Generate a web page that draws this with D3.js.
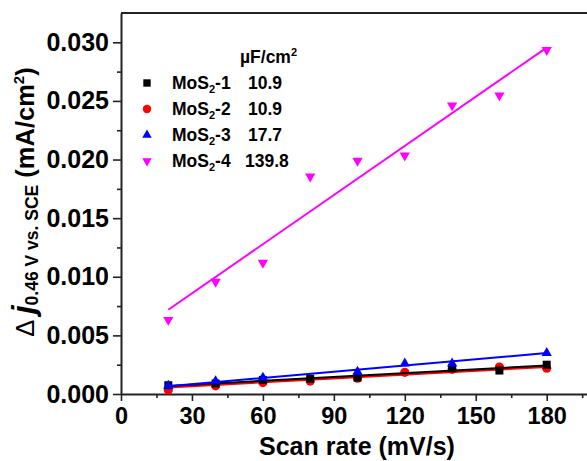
<!DOCTYPE html>
<html>
<head>
<meta charset="utf-8">
<script src="https://cdn.jsdelivr.net/npm/d3@7"></script>
<style>
  html, body { margin: 0; padding: 0; background: #fff; }
  svg { display: block; font-family: "Liberation Sans", Arial, sans-serif; }
</style>
</head>
<body>
<svg id="chart" width="587" height="461"></svg>
<script>
// Scan rates (mV/s)
const scanRates = [20, 40, 60, 80, 100, 120, 140, 160, 180];

// Current density difference at 0.46 V vs. SCE (mA/cm^2); null = point not plotted
const mos2_1 = [0.00075, 0.0009, 0.0012, 0.0013, 0.0014, null, 0.0022, 0.0020, 0.0025];
const mos2_2 = [0.00035, 0.0007, 0.00097, 0.0011, 0.00134, 0.00185, 0.0021, 0.0023, 0.0022];
const mos2_3 = [0.0007, 0.0011, 0.0014, null, 0.0019, 0.0026, 0.0026, null, 0.0035];
const mos2_4 = [0.00632, 0.00957, 0.0112, 0.01855, 0.0199, 0.02034, 0.02462, 0.02547, 0.02934];

// Double-layer capacitance (µF/cm^2) = slope of each fitted line
const seriesNames = ["MoS2-1", "MoS2-2", "MoS2-3", "MoS2-4"];
const capacitance = [10.9, 10.9, 17.7, 139.8];

const xTicks = [0, 30, 60, 90, 120, 150, 180];
const yTicks = [0.000, 0.005, 0.010, 0.015, 0.020, 0.025, 0.030];

(function draw() {
  const seriesValues = [mos2_1, mos2_2, mos2_3, mos2_4];
  const colors = ["#000000", "#ff0000", "#0000ff", "#ff00ff"];
  const symbols = [
    { type: d3.symbolSquare, size: 64, rot: 0 },
    { type: d3.symbolCircle, size: 66, rot: 0 },
    { type: d3.symbolTriangle, size: 46, rot: 0 },
    { type: d3.symbolTriangle, size: 46, rot: 180 }
  ];

  const svg = d3.select("#chart");
  const pLeft = 121, pTop = 13, pBottom = 394, pRight = 594;

  const x = d3.scaleLinear().domain([0, 200]).range([pLeft, pRight]);
  const y = d3.scaleLinear().domain([0, 0.0325]).range([pBottom, pTop]);

  const axisColor = "#222";

  // minor ticks
  svg.append("g")
    .attr("transform", `translate(0,${pBottom})`)
    .call(d3.axisBottom(x).tickValues(d3.range(15, 200, 30)).tickSize(4).tickFormat(""))
    .call(g => g.select(".domain").remove())
    .call(g => g.selectAll("line").attr("stroke", axisColor).attr("stroke-width", 1.6));
  svg.append("g")
    .attr("transform", `translate(${pLeft},0)`)
    .call(d3.axisLeft(y).tickValues(d3.range(0.0025, 0.032, 0.005)).tickSize(4).tickFormat(""))
    .call(g => g.select(".domain").remove())
    .call(g => g.selectAll("line").attr("stroke", axisColor).attr("stroke-width", 1.6));

  // major axes
  const xAxis = svg.append("g")
    .attr("transform", `translate(0,${pBottom})`)
    .call(d3.axisBottom(x).tickValues(xTicks).tickSize(7).tickSizeOuter(0).tickPadding(6).tickFormat(d3.format("d")));
  xAxis.select(".domain").attr("stroke", axisColor).attr("stroke-width", 2);
  xAxis.selectAll("line").attr("stroke", axisColor).attr("stroke-width", 1.6);
  xAxis.selectAll("text")
    .attr("font-family", "Liberation Sans, Arial, sans-serif")
    .attr("font-size", 23.5).attr("font-weight", "bold").attr("fill", "#000");

  const yAxis = svg.append("g")
    .attr("transform", `translate(${pLeft},0)`)
    .call(d3.axisLeft(y).tickValues(yTicks).tickSize(8).tickSizeOuter(0).tickPadding(4).tickFormat(d3.format(".3f")));
  yAxis.select(".domain").attr("stroke", axisColor).attr("stroke-width", 2);
  yAxis.selectAll("line").attr("stroke", axisColor).attr("stroke-width", 1.6);
  yAxis.selectAll("text")
    .attr("font-family", "Liberation Sans, Arial, sans-serif")
    .attr("font-size", 25).attr("font-weight", "bold").attr("fill", "#000");

  // top frame line
  svg.append("line")
    .attr("x1", pLeft).attr("x2", pRight).attr("y1", pTop).attr("y2", pTop)
    .attr("stroke", axisColor).attr("stroke-width", 2);

  // linear fits: fixed slope from capacitance, intercept by least squares
  const fitLines = seriesValues.map((vals, i) => {
    const pts = scanRates.map((s, j) => [s, vals[j]]).filter(p => p[1] != null);
    const slope = capacitance[i] * 1e-6;
    const mx = d3.mean(pts, p => p[0]);
    const my = d3.mean(pts, p => p[1]);
    const b = my - slope * mx;
    const x0 = d3.min(scanRates), x1 = d3.max(scanRates);
    return [[x0, b + slope * x0], [x1, b + slope * x1]];
  });

  const line = d3.line().x(d => x(d[0])).y(d => y(d[1]));
  const order = [1, 0, 2, 3];

  order.forEach(i => {
    const g = svg.append("g");
    g.selectAll("path.pt")
      .data(scanRates.map((s, j) => [s, seriesValues[i][j]]).filter(p => p[1] != null))
      .join("path")
      .attr("class", "pt")
      .attr("d", d3.symbol().type(symbols[i].type).size(symbols[i].size))
      .attr("transform", d => `translate(${x(d[0])},${y(d[1])}) rotate(${symbols[i].rot})`)
      .attr("fill", colors[i]);
    g.append("path")
      .datum(fitLines[i])
      .attr("d", line)
      .attr("fill", "none")
      .attr("stroke", colors[i])
      .attr("stroke-width", 2);
  });

  // legend
  const legend = svg.append("g").attr("font-weight", "bold").attr("font-size", 17.5);
  legend.append("text").attr("x", 240).attr("y", 63).text("µF/cm")
    .append("tspan").attr("font-size", 11).attr("dy", -7).text("2");

  seriesNames.forEach((name, i) => {
    const by = 89 + i * 26;
    legend.append("path")
      .attr("d", d3.symbol().type(symbols[i].type).size(symbols[i].size * 0.85))
      .attr("transform", `translate(147,${by - 6}) rotate(${symbols[i].rot})`)
      .attr("fill", colors[i]);
    const t = legend.append("text").attr("x", 172).attr("y", by);
    t.append("tspan").text("MoS");
    t.append("tspan").attr("font-size", 11).attr("dy", 4).text("2");
    t.append("tspan").attr("dy", -4).text("-" + name.split("-")[1]);
    legend.append("text").attr("x", i === 3 ? 245 : 248).attr("y", by).text(capacitance[i].toFixed(1));
  });

  // axis titles
  svg.append("text")
    .attr("x", 357).attr("y", 455)
    .attr("text-anchor", "middle")
    .attr("font-size", 25).attr("font-weight", "bold")
    .text("Scan rate (mV/s)");

  const yt = svg.append("text")
    .attr("transform", "translate(34,202) rotate(-90)")
    .attr("text-anchor", "middle")
    .attr("font-size", 25.5).attr("font-weight", "bold");
  yt.append("tspan").attr("font-weight", "normal").text("Δ ");
  yt.append("tspan").attr("font-style", "italic").attr("font-size", 31).text("j");
  yt.append("tspan").attr("font-size", 17.5).attr("dy", 4).text("0.46 V vs. SCE");
  yt.append("tspan").attr("dy", -4).text(" (mA/cm");
  yt.append("tspan").attr("font-size", 15).attr("dy", -10).text("2");
  yt.append("tspan").attr("dy", 10).text(")");
})();
</script>
</body>
</html>
